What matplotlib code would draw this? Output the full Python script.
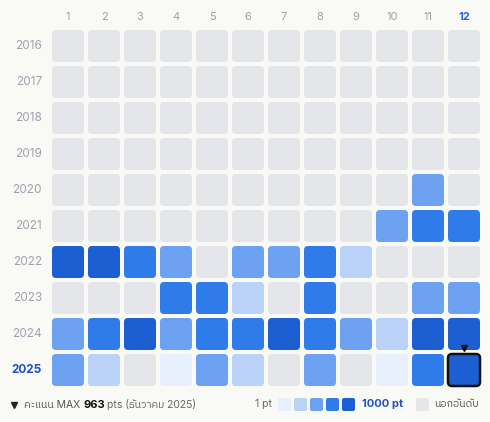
import matplotlib
matplotlib.use("Agg")
import matplotlib.pyplot as plt
from matplotlib.patches import FancyBboxPatch
from matplotlib import font_manager

names = sorted({f.name for f in font_manager.fontManager.ttflist})
thai = [n for n in names if 'Thai' in n or n in ('Loma', 'Garuda', 'Kinnari', 'Norasi', 'Sarabun', 'Tlwg Typo')]
FAM = ['Inter', 'DejaVu Sans'] + thai
plt.rcParams['font.family'] = FAM

years = [2016, 2017, 2018, 2019, 2020, 2021, 2022, 2023, 2024, 2025]
months = ['1', '2', '3', '4', '5', '6', '7', '8', '9', '10', '11', '12']
# 0 = not ranked, 1..5 = score level
levels = [
    [0]*12,
    [0]*12,
    [0]*12,
    [0]*12,
    [0,0,0,0,0,0,0,0,0,0,3,0],
    [0,0,0,0,0,0,0,0,0,3,4,4],
    [5,5,4,3,0,3,3,4,2,0,0,0],
    [0,0,0,4,4,2,0,4,0,0,3,3],
    [3,4,5,3,4,4,5,4,3,2,5,5],
    [3,2,0,1,3,2,0,3,0,1,4,5],
]
colors = ['#e5e6ea', '#e8effd', '#bad1f8', '#6ca2f1', '#2f7be9', '#1c5fd2']

fig = plt.figure(figsize=(4.9, 4.22), dpi=100)
fig.patch.set_facecolor('#f9f9f6')
ax = fig.add_axes([0, 0, 1, 1])
ax.set_xlim(0, 490); ax.set_ylim(422, 0); ax.axis('off')

x0, y0, pitch, size = 52, 30, 36, 32
for j, m in enumerate(months):
    cx = x0 + j*pitch + size/2
    last = j == len(months)-1
    ax.text(cx, 17, m, ha='center', va='center', fontsize=8,
            color='#2563eb' if last else '#a0a0ae', fontweight='bold' if last else 'normal')
for i, y in enumerate(years):
    cy = y0 + i*pitch + size/2
    last = i == len(years)-1
    ax.text(42, cy, str(y), ha='right', va='center', fontsize=8.5,
            color='#2150c8' if last else '#a3a0ae', fontweight='bold' if last else 'normal')
    for j in range(len(months)):
        lv = levels[i][j]
        sel = last and j == len(months)-1
        p = FancyBboxPatch((x0 + j*pitch, y0 + i*pitch), size, size,
                           boxstyle='round,pad=0,rounding_size=4',
                           facecolor=colors[lv], edgecolor='#111111' if sel else 'none',
                           linewidth=1.8 if sel else 0)
        ax.add_patch(p)
# marker on max
ax.plot(x0 + 11*pitch + size/2, y0 + 8*pitch + size - 2, marker='v', color='#111111', markersize=5)

# footer
ax.plot(14, 405, marker='v', color='#222222', markersize=4.5)
ax.text(24, 405, 'คะแนน MAX', ha='left', va='center', fontsize=7.5, color='#555555', family=FAM)
ax.text(83, 405, '963', ha='left', va='center', fontsize=8, color='#111111', fontweight='bold')
ax.text(107, 405, 'pts (ธันวาคม 2025)', ha='left', va='center', fontsize=7.5, color='#666666', family=FAM)
ax.text(272, 404, '1 pt', ha='right', va='center', fontsize=7.5, color='#666666')
for k in range(1, 6):
    ax.add_patch(FancyBboxPatch((278 + (k-1)*16, 398), 13, 13, boxstyle='round,pad=0,rounding_size=2',
                                facecolor=colors[k], edgecolor='none'))
ax.text(362, 404, '1000 pt', ha='left', va='center', fontsize=8, color='#2150c8', fontweight='bold')
ax.add_patch(FancyBboxPatch((416, 398), 13, 13, boxstyle='round,pad=0,rounding_size=2',
                            facecolor=colors[0], edgecolor='none'))
ax.text(434, 404, 'นอกอันดับ', ha='left', va='center', fontsize=7.5, color='#555555', family=FAM)

fig.savefig('out.png', dpi=100, facecolor=fig.get_facecolor())
